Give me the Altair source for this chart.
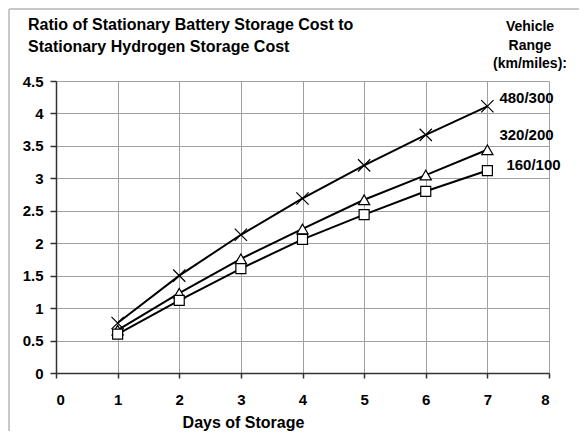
import altair as alt
import pandas as pd

# ---- data ----
days = [1, 2, 3, 4, 5, 6, 7]
range_480_300 = [0.77, 1.50, 2.13, 2.69, 3.20, 3.67, 4.11]
range_320_200 = [0.66, 1.23, 1.76, 2.22, 2.67, 3.05, 3.44]
range_160_100 = [0.60, 1.12, 1.61, 2.06, 2.44, 2.80, 3.12]
series_names = ["480/300", "320/200", "160/100"]
x_ticks = [0, 1, 2, 3, 4, 5, 6, 7, 8]
y_ticks = [0, 0.5, 1, 1.5, 2, 2.5, 3, 3.5, 4, 4.5]
title_lines = ["Ratio of Stationary Battery Storage Cost to",
               "Stationary Hydrogen Storage Cost"]
header_lines = ["Vehicle", "Range", "(km/miles):"]
x_title = "Days of Storage"

rows = []
for name, vals in zip(series_names, [range_480_300, range_320_200, range_160_100]):
    for d, v in zip(days, vals):
        rows.append({"day": d, "ratio": v, "series": name})
df = pd.DataFrame(rows)

FONT = "Liberation Sans"

x_enc = alt.X("day:Q",
              scale=alt.Scale(domain=[0, 8], nice=False, zero=False),
              axis=alt.Axis(values=x_ticks, format="d", title=x_title,
                            tickSize=5, labelPadding=14,
                            titleX=187, titleY=54, titleAlign="center",
                            titleBaseline="alphabetic", titleFontSize=16))
y_enc = alt.Y("ratio:Q",
              scale=alt.Scale(domain=[0, 4.5], nice=False),
              axis=alt.Axis(values=y_ticks, format="~g", title=None,
                            tickSize=6, labelPadding=7))

base = alt.Chart(df)

lines = base.mark_line(color="black", strokeWidth=2).encode(
    x=x_enc, y=y_enc, detail="series:N")

shape_scale = alt.Scale(domain=series_names,
                        range=["M-1,-1L1,1M-1,1L1,-1", "triangle-up", "square"])
size_scale = alt.Scale(domain=series_names, range=[150, 100, 100])

points = base.mark_point(filled=True, fill="white", stroke="black",
                         strokeWidth=1.2, opacity=1).encode(
    x=x_enc, y=y_enc,
    shape=alt.Shape("series:N", scale=shape_scale, legend=None),
    size=alt.Size("series:N", scale=size_scale, legend=None))

label_offsets = {"480/300": (12, -8), "320/200": (12, -15), "160/100": (19, -6)}
labels = []
for name in series_names:
    dx, dy = label_offsets[name]
    labels.append(
        base.transform_filter(
            (alt.datum.series == name) & (alt.datum.day == max(days))
        ).mark_text(align="left", baseline="middle", dx=dx, dy=dy,
                    font=FONT, fontWeight="bold", fontSize=15, color="black"
        ).encode(x=x_enc, y=y_enc, text="series:N")
    )

one = pd.DataFrame({"k": [0]})
title_text = alt.Chart(one).mark_text(
    align="left", baseline="alphabetic", font=FONT, fontWeight="bold",
    fontSize=16, lineHeight=22, color="black"
).encode(x=alt.value(-28), y=alt.value(-51), text=alt.value(title_lines))

header_text = alt.Chart(one).mark_text(
    align="center", baseline="alphabetic", font=FONT, fontWeight="bold",
    fontSize=14, lineHeight=18.5, color="black"
).encode(x=alt.value(474), y=alt.value(-50), text=alt.value(header_lines))

border_left = alt.Chart(one).mark_rule(color="#c8c8c8", strokeWidth=2).encode(
    x=alt.value(-47), y=alt.value(-72), y2=alt.value(420))
border_top = alt.Chart(one).mark_rule(color="#c8c8c8", strokeWidth=2).encode(
    x=alt.value(-47), x2=alt.value(600), y=alt.value(-72))

chart = alt.layer(
    border_left, border_top, lines, points, *labels, title_text, header_text
).properties(
    width=493, height=292,
    autosize=alt.AutoSizeParams(type="none"),
    padding={"left": 48, "top": 73, "right": 30, "bottom": 58},
    background="white",
).configure_view(
    stroke="transparent"
).configure_axis(
    grid=True, gridColor="#a0a0a0", gridWidth=1,
    domainColor="#333333", domainWidth=1.5,
    tickColor="#333333", tickWidth=1.5,
    labelFont=FONT, labelFontWeight="bold", labelFontSize=15, labelColor="black",
    titleFont=FONT, titleFontWeight="bold", titleColor="black",
)

chart.save("out.html", embed_options={"renderer": "svg", "actions": False})
